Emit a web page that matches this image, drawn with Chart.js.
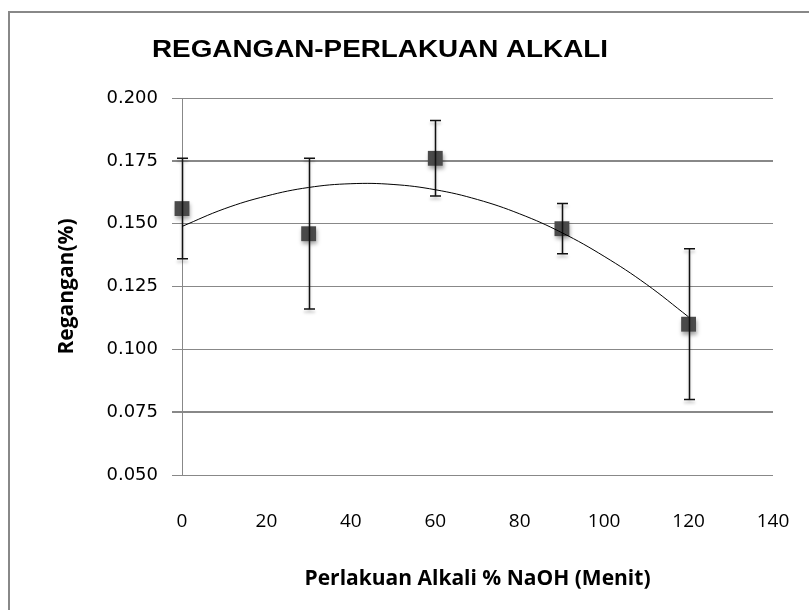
<!DOCTYPE html>
<html>
<head>
<meta charset="utf-8">
<script src="https://cdn.jsdelivr.net/npm/chart.js@4"></script>
<style>
  body { margin: 0; background: #fff; }
  #wrap { width: 809px; height: 610px; }
</style>
</head>
<body>
<div id="wrap"><canvas id="chart" width="809" height="610"></canvas></div>
<script>
// data
const waktu = [0, 30, 60, 90, 120];
const regangan = [0.156, 0.146, 0.176, 0.148, 0.110];
const galat = [0.020, 0.030, 0.015, 0.010, 0.030];

// polynomial trendline
const trendX = [0, 10, 20, 30, 40, 50, 60, 70, 80, 90, 100, 110, 120];
const trendY = [0.1489, 0.1559, 0.1610, 0.1644, 0.1659, 0.1656, 0.1635, 0.1596, 0.1539, 0.1464, 0.1370, 0.1259, 0.1129];

const yTicks = [0.050, 0.075, 0.100, 0.125, 0.150, 0.175, 0.200];
const xTicks = [0, 20, 40, 60, 80, 100, 120, 140];
const tebal = [0.075, 0.175]; // gridlines that look heavier in the picture

const judul = 'REGANGAN-PERLAKUAN ALKALI';

const pointData = waktu.map((x, i) => ({ x: x, y: regangan[i] }));
const trendData = trendX.map((x, i) => ({ x: x, y: trendY[i] }));

// frame + title
const framePlugin = {
    id: 'frame',
    beforeDraw(chart) {
        const ctx = chart.ctx;
        ctx.save();
        ctx.fillStyle = '#fff';
        ctx.fillRect(0, 0, chart.width, chart.height);
        ctx.strokeStyle = '#888';
        ctx.lineWidth = 2;
        ctx.strokeRect(9, 12, 900, 700);
        ctx.restore();
    },
    afterDraw(chart) {
        const ctx = chart.ctx;
        ctx.save();
        ctx.fillStyle = '#000';
        ctx.font = "bold 24px 'Liberation Sans', sans-serif";
        ctx.textAlign = 'center';
        ctx.textBaseline = 'middle';
        // the title in the picture is a little wider than the font
        const w = ctx.measureText(judul).width;
        ctx.translate(380, 50);
        ctx.scale(456 / w, 1);
        ctx.fillText(judul, 0, 0);
        ctx.restore();
    }
};

// shadows for the markers and the error bars drawn on the scales
const errorBarPlugin = {
    id: 'errorBars',
    beforeDatasetDraw(chart, args) {
        if (args.index !== 0) return;
        const ctx = chart.ctx;
        ctx.save();
        ctx.shadowColor = 'rgba(0,0,0,0.35)';
        ctx.shadowBlur = 4;
        ctx.shadowOffsetX = 1;
        ctx.shadowOffsetY = 3;
    },
    afterDatasetDraw(chart, args) {
        if (args.index !== 0) return;
        const ctx = chart.ctx;
        ctx.restore();
        const xs = chart.scales.x;
        const ys = chart.scales.y;
        ctx.save();
        ctx.strokeStyle = '#111';
        ctx.lineWidth = 1.5;
        ctx.shadowColor = 'rgba(0,0,0,0.25)';
        ctx.shadowBlur = 3;
        ctx.shadowOffsetY = 3;
        waktu.forEach((w, i) => {
            const px = Math.round(xs.getPixelForValue(w)) + 0.5;
            const top = ys.getPixelForValue(regangan[i] + galat[i]);
            const bot = ys.getPixelForValue(regangan[i] - galat[i]);
            ctx.beginPath();
            ctx.moveTo(px, top);
            ctx.lineTo(px, bot);
            ctx.moveTo(px - 5.5, top);
            ctx.lineTo(px + 5.5, top);
            ctx.moveTo(px - 5.5, bot);
            ctx.lineTo(px + 5.5, bot);
            ctx.stroke();
        });
        ctx.restore();
    }
};

const ctx = document.getElementById('chart').getContext('2d');
const myChart = new Chart(ctx, {
    type: 'scatter',
    data: {
        datasets: [{
            label: 'Regangan',
            data: pointData,
            pointStyle: 'rect',
            pointRadius: 10.5,
            backgroundColor: '#4a4a4a',
            borderColor: '#4a4a4a',
            borderWidth: 0,
            clip: false,
            order: 1
        }, {
            label: 'Trend',
            type: 'line',
            data: trendData,
            showLine: true,
            borderColor: '#000',
            borderWidth: 1,
            pointRadius: 0,
            tension: 0.4,
            fill: false,
            order: 0
        }]
    },
    options: {
        responsive: false,
        animation: false,
        layout: {
            padding: { left: 54, right: 36, top: 98, bottom: 0 }
        },
        plugins: {
            legend: { display: false },
            tooltip: { enabled: false }
        },
        scales: {
            x: {
                type: 'linear',
                min: 0,
                max: 140,
                afterBuildTicks: (scale) => { scale.ticks = xTicks.map(v => ({ value: v })); },
                grid: { display: false },
                border: { display: false },
                ticks: {
                    color: '#000',
                    padding: 27,
                    maxRotation: 0,
                    font: { family: "'Open Sans', sans-serif", size: 19 }
                },
                title: {
                    display: true,
                    text: 'Perlakuan Alkali % NaOH (Menit)',
                    color: '#000',
                    font: { family: "'Open Sans', sans-serif", size: 21, weight: 'bold' },
                    padding: { top: 0, bottom: 18 }
                },
                afterFit: (scale) => {
                    scale.height = 135;
                    scale.paddingLeft = 0;
                    scale.paddingRight = 0;
                }
            },
            y: {
                min: 0.05,
                max: 0.2,
                afterBuildTicks: (scale) => { scale.ticks = yTicks.map(v => ({ value: v })); },
                grid: {
                    color: '#888',
                    lineWidth: (c) => (c.tick && tebal.includes(c.tick.value) ? 2 : 1),
                    tickLength: 10,
                    tickColor: '#888'
                },
                border: { display: true, color: '#888', width: 1 },
                ticks: {
                    color: '#000',
                    padding: 14,
                    callback: (v) => Number(v).toFixed(3),
                    font: { family: "'DejaVu Sans', sans-serif", size: 18 }
                },
                title: {
                    display: true,
                    text: 'Regangan(%)',
                    color: '#000',
                    font: { family: "'Open Sans', sans-serif", size: 21, weight: 'bold' },
                    padding: 0
                },
                afterFit: (scale) => { scale.width = 128; }
            }
        }
    },
    plugins: [framePlugin, errorBarPlugin]
});
</script>
</body>
</html>
